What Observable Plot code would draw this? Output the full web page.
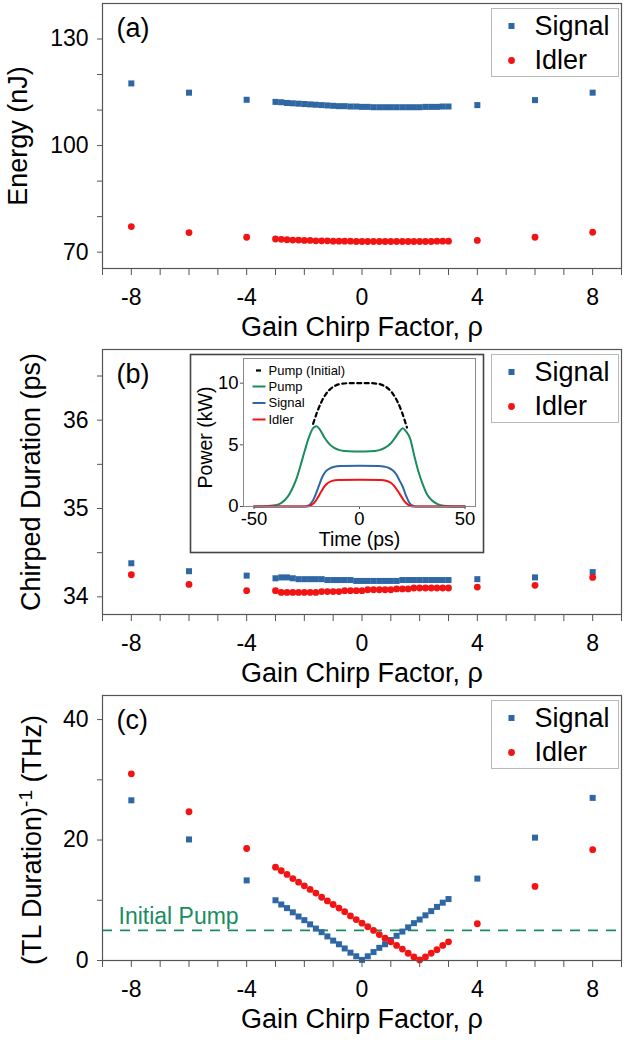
<!DOCTYPE html>
<html>
<head>
<meta charset="utf-8">
<script src="https://cdn.jsdelivr.net/npm/d3@7"></script>
<script src="https://cdn.jsdelivr.net/npm/@observablehq/plot@0.6"></script>
<style>
  body { margin: 0; background: white; }
  #chart { position: relative; width: 624px; }
  #chart svg { display: block; }
  #inset { position: absolute; left: 189px; top: 353px; }
</style>
</head>
<body>
<div id="chart">
  <div id="panel_a"></div>
  <div id="panel_b"></div>
  <div id="panel_c"></div>
  <div id="inset"></div>
</div>
<script>
// Gain chirp factor: a few wide steps plus a dense scan between -3 and 3
const rhoSparse = [-8, -6, -4, 4, 6, 8]
const rhoDense = [-3, -2.8, -2.6, -2.4, -2.2, -2, -1.8, -1.6, -1.4, -1.2, -1, -0.8, -0.6, -0.4, -0.2,
  0, 0.2, 0.4, 0.6, 0.8, 1, 1.2, 1.4, 1.6, 1.8, 2, 2.2, 2.4, 2.6, 2.8, 3]
const rhoTicks = [-9, -8, -7, -6, -5, -4, -3, -2, -1, 0, 1, 2, 3, 4, 5, 6, 7, 8, 9]
const rhoTickLabels = [-8, -4, 0, 4, 8]

// (a) energy, nJ
const energySignalSparse = [117.5, 114.9, 112.9, 111.4, 112.8, 114.9]
const energySignalDense = [112.3, 112.2, 112.0, 111.9, 111.8, 111.7, 111.6, 111.5, 111.4, 111.3, 111.2, 111.1, 111.1, 111.0, 111.0,
  110.9, 110.9, 110.8, 110.8, 110.8, 110.8, 110.8, 110.8, 110.8, 110.8, 110.8, 110.9, 110.9, 110.9, 111.0, 111.0]
const energyIdlerSparse = [77.2, 75.5, 74.2, 73.3, 74.2, 75.6]
const energyIdlerDense = [73.7, 73.6, 73.5, 73.4, 73.4, 73.3, 73.3, 73.2, 73.2, 73.2, 73.1, 73.1, 73.1, 73.1, 73.0,
  73.0, 73.0, 73.0, 73.0, 73.0, 73.0, 73.0, 73.0, 73.0, 73.0, 73.0, 73.0, 73.0, 73.1, 73.1, 73.1]
const energyTicks = [70, 80, 90, 100, 110, 120, 130]
const energyTickLabels = [70, 100, 130]

// (b) chirped duration, ps
const durationSignalSparse = [34.38, 34.29, 34.24, 34.20, 34.22, 34.28]
const durationSignalDense = [34.21, 34.22, 34.22, 34.21, 34.20, 34.20, 34.20, 34.20, 34.20, 34.19, 34.19, 34.19, 34.19, 34.19, 34.18,
  34.18, 34.18, 34.18, 34.18, 34.18, 34.18, 34.18, 34.19, 34.19, 34.19, 34.19, 34.19, 34.19, 34.19, 34.19, 34.19]
const durationIdlerSparse = [34.25, 34.14, 34.07, 34.11, 34.13, 34.22]
const durationIdlerDense = [34.07, 34.05, 34.05, 34.05, 34.05, 34.05, 34.05, 34.05, 34.06, 34.06, 34.06, 34.06, 34.07, 34.07, 34.07,
  34.07, 34.08, 34.08, 34.08, 34.08, 34.08, 34.09, 34.09, 34.09, 34.10, 34.10, 34.10, 34.10, 34.10, 34.10, 34.10]
const durationTicks = [34, 34.5, 35, 35.5, 36, 36.5]
const durationTickLabels = [34, 35, 36]

// (c) inverse transform-limited duration, THz
const tlSignalSparse = [26.6, 20.1, 13.3, 13.6, 20.4, 27.0]
const tlSignalDense = [10.0, 9.3, 8.7, 8.0, 7.3, 6.7, 6.0, 5.3, 4.7, 4.0, 3.3, 2.7, 2.0, 1.3, 0.7,
  0.1, 0.7, 1.4, 2.1, 2.7, 3.4, 4.1, 4.8, 5.5, 6.2, 6.8, 7.5, 8.2, 8.9, 9.6, 10.2]
const tlIdlerSparse = [31.0, 24.7, 18.6, 6.1, 12.3, 18.4]
const tlIdlerDense = [15.5, 14.9, 14.3, 13.6, 13.0, 12.4, 11.8, 11.2, 10.5, 9.9, 9.3, 8.7, 8.1, 7.4, 6.8,
  6.2, 5.6, 5.0, 4.3, 3.7, 3.1, 2.5, 1.9, 1.2, 0.6, 0.1, 0.6, 1.2, 1.8, 2.5, 3.1]
const initialPumpTHz = 5.0
const tlTicks = [0, 10, 20, 30, 40]
const tlTickLabels = [0, 20, 40]

// inset: power profiles (kW) vs time (ps)
const pumpInitialT = [-22, -20, -18, -16, -14, -12, -10, -5, 0, 5, 10, 12, 14, 16, 18, 20, 22.5]
const pumpInitialP = [6.7, 7.7, 8.5, 9.1, 9.5, 9.75, 9.9, 10, 10, 10, 9.9, 9.75, 9.5, 9.1, 8.5, 7.7, 6.4]
const pumpT = [-50, -45, -40, -37, -34, -32, -30, -28, -26, -24, -22, -20.5, -19, -17, -15, -12, -9, -5, 0,
  5, 9, 12, 15, 17, 19, 20.5, 22, 24, 26, 28, 30, 32, 34, 37, 40, 45, 50]
const pumpP = [0, 0.02, 0.1, 0.3, 0.8, 1.4, 2.2, 3.3, 4.5, 5.6, 6.35, 6.5, 6.3, 5.7, 5.2, 4.75, 4.55, 4.47, 4.45,
  4.47, 4.55, 4.75, 5.15, 5.6, 6.1, 6.35, 6.1, 5.5, 4.1, 2.8, 1.8, 1.0, 0.55, 0.2, 0.06, 0.01, 0]
const signalT = [-50, -26, -24, -22, -20.5, -19, -17.5, -16, -14, -12, -9, 0, 9, 12, 14, 16, 17.5, 19, 20.5, 22, 23.5, 25, 27, 50]
const signalP = [0, 0, 0.1, 0.5, 1.1, 1.8, 2.45, 2.85, 3.1, 3.22, 3.28, 3.3, 3.28, 3.22, 3.12, 2.9, 2.6, 2.1, 1.6, 0.9, 0.35, 0.08, 0, 0]
const idlerT = [-50, -25, -23, -21, -19.5, -18, -16.5, -15, -13, -10, 0, 10, 13, 15, 16.5, 18, 19.5, 21, 23, 25, 50]
const idlerP = [0, 0, 0.1, 0.4, 0.8, 1.25, 1.65, 1.9, 2.08, 2.15, 2.17, 2.15, 2.07, 1.9, 1.65, 1.3, 0.9, 0.5, 0.15, 0, 0]
const timeTicks = [-50, 0, 50]
const powerTicks = [0, 5, 10]
const insetLegend = ['Pump (Initial)', 'Pump', 'Signal', 'Idler']

const FONT = '"Liberation Sans", Arial, Helvetica, sans-serif'
const BLUE = '#2e67a4'
const RED = '#f21414'
const GREEN = '#1a8c5e'
const FRAME = '#555'

const rows = (xs, vs) => xs.map((x, i) => ({rho: x, v: vs[i]}))
const curve = (ts, ps) => ts.map((t, i) => ({t, p: ps[i]}))

// short horizontal stroke used as a legend glyph
const dash = half => ({draw(ctx) { ctx.moveTo(-half, 0); ctx.lineTo(half, 0) }})

function panel({height, yDomain, yTicks, yTickLabels, yLabel, labelX, labelDy = 0, tag, signal, idler, under = [], labelClass}) {
  const bottom = height - 3 - 265
  return Plot.plot({
    width: 624,
    height,
    marginLeft: 102,
    marginRight: 3,
    marginTop: 3,
    marginBottom: bottom,
    style: {fontFamily: FONT, fontSize: '23px', color: 'black', background: 'white', overflow: 'visible'},
    x: {domain: [-9, 9]},
    y: {domain: yDomain},
    marks: [
      Plot.axisX({ticks: rhoTicks, tickSize: 7, tickPadding: 13, label: null, stroke: FRAME,
        tickFormat: d => rhoTickLabels.includes(d) ? String(d) : ''}),
      Plot.axisY({ticks: yTicks, tickSize: 5, tickPadding: 9, label: null, stroke: FRAME,
        tickFormat: d => yTickLabels.includes(d) ? String(d) : ''}),
      ...under,
      Plot.dot(signal, {x: 'rho', y: 'v', symbol: 'square', r: 3.4, fill: BLUE}),
      Plot.dot(idler, {x: 'rho', y: 'v', symbol: 'circle', r: 3.4, fill: RED}),
      Plot.frame({stroke: FRAME, strokeWidth: 1.2}),

      Plot.text([tag], {frameAnchor: 'top-left', dx: 14, dy: 33, textAnchor: 'start', lineAnchor: 'bottom', fontSize: 27, text: d => d}),
      Plot.text(['Gain Chirp Factor, ρ'], {frameAnchor: 'bottom', dy: 67, lineAnchor: 'bottom', fontSize: 27, text: d => d}),
      Plot.text([yLabel], {frameAnchor: 'left', rotate: -90, dx: -(102 - labelX), dy: labelDy, textAnchor: 'middle',
        lineAnchor: 'middle', fontSize: 27, text: d => d, className: labelClass}),

      // legend
      Plot.frame({stroke: '#b8b8b8', fill: 'white', insetLeft: 389, insetRight: 3, insetTop: 5, insetBottom: 192}),
      Plot.dot([0], {frameAnchor: 'top-right', dx: -110, dy: 22.5, symbol: 'square', r: 3.4, fill: BLUE}),
      Plot.dot([0], {frameAnchor: 'top-right', dx: -110, dy: 57, symbol: 'circle', r: 3.4, fill: RED}),
      Plot.text(['Signal'], {frameAnchor: 'top-right', dx: -87, dy: 22.5, textAnchor: 'start', lineAnchor: 'middle', fontSize: 27, text: d => d}),
      Plot.text(['Idler'], {frameAnchor: 'top-right', dx: -87, dy: 57, textAnchor: 'start', lineAnchor: 'middle', fontSize: 27, text: d => d})
    ]
  })
}

const chartA = panel({
  height: 346, yDomain: [65.4, 140], yTicks: energyTicks, yTickLabels: energyTickLabels,
  yLabel: 'Energy (nJ)', labelX: 18, tag: '(a)',
  signal: [...rows(rhoSparse, energySignalSparse), ...rows(rhoDense, energySignalDense)],
  idler: [...rows(rhoSparse, energyIdlerSparse), ...rows(rhoDense, energyIdlerDense)]
})

const chartB = panel({
  height: 346, yDomain: [33.8, 36.8], yTicks: durationTicks, yTickLabels: durationTickLabels,
  yLabel: 'Chirped Duration (ps)', labelX: 31, tag: '(b)',
  signal: [...rows(rhoSparse, durationSignalSparse), ...rows(rhoDense, durationSignalDense)],
  idler: [...rows(rhoSparse, durationIdlerSparse), ...rows(rhoDense, durationIdlerDense)]
})

const chartC = panel({
  height: 348, yDomain: [0, 44], yTicks: tlTicks, yTickLabels: tlTickLabels,
  yLabel: '(TL Duration)', labelX: 32, labelDy: 12, tag: '(c)', labelClass: 'tl-label',
  signal: [...rows(rhoSparse, tlSignalSparse), ...rows(rhoDense, tlSignalDense)],
  idler: [...rows(rhoSparse, tlIdlerSparse), ...rows(rhoDense, tlIdlerDense)],
  under: [
    Plot.ruleY([initialPumpTHz], {stroke: GREEN, strokeWidth: 1.6, strokeDasharray: '10,8'}),
    Plot.text(['Initial Pump'], {y: () => initialPumpTHz, frameAnchor: 'left', dx: 16, dy: -6, textAnchor: 'start',
      lineAnchor: 'bottom', fill: GREEN, fontSize: 23, text: d => d})
  ]
})

// superscript -1 on the (c) axis title
const tl = d3.select(chartC).select('.tl-label text')
tl.append('tspan').attr('dy', -9).attr('font-size', 19).text('-1')
tl.append('tspan').attr('dy', 9).text(' (THz)')

const inset = Plot.plot({
  width: 296,
  height: 200,
  marginLeft: 54,
  marginRight: 10,
  marginTop: 5,
  marginBottom: 47,
  style: {fontFamily: FONT, fontSize: '18.5px', color: 'black', background: 'white', overflow: 'visible'},
  x: {domain: [-55, 55]},
  y: {domain: [0, 12]},
  marks: [
    Plot.frame({stroke: '#444', strokeWidth: 1.6, insetLeft: -53, insetTop: -4, insetRight: -8, insetBottom: -46}),
    Plot.axisX({ticks: timeTicks, tickSize: 3, tickPadding: 2, label: null, stroke: FRAME, tickFormat: d => String(d)}),
    Plot.axisY({ticks: powerTicks, tickSize: 3, tickPadding: 2, label: null, stroke: FRAME, tickFormat: d => String(d)}),
    Plot.line(curve(pumpInitialT, pumpInitialP), {x: 't', y: 'p', stroke: 'black', strokeWidth: 2.2, strokeDasharray: '4,3.5', curve: 'monotone-x'}),
    Plot.line(curve(pumpT, pumpP), {x: 't', y: 'p', stroke: GREEN, strokeWidth: 2, curve: 'monotone-x'}),
    Plot.line(curve(signalT, signalP), {x: 't', y: 'p', stroke: BLUE, strokeWidth: 2, curve: 'monotone-x'}),
    Plot.line(curve(idlerT, idlerP), {x: 't', y: 'p', stroke: RED, strokeWidth: 2, curve: 'monotone-x'}),
    Plot.frame({stroke: '#888'}),
    Plot.text(['Time (ps)'], {frameAnchor: 'bottom', dy: 39, lineAnchor: 'bottom', fontSize: 19.5, text: d => d}),
    Plot.text(['Power (kW)'], {frameAnchor: 'left', rotate: -90, dx: -38, dy: 5, textAnchor: 'middle', lineAnchor: 'middle', fontSize: 19.5, text: d => d}),

    // inset legend
    Plot.dot([0], {frameAnchor: 'top-left', dx: 15, dy: 12, symbol: dash(2.5), fill: 'none', stroke: 'black', strokeWidth: 2.2}),
    Plot.dot([0], {frameAnchor: 'top-left', dx: 15.5, dy: 28, symbol: dash(6.5), fill: 'none', stroke: GREEN, strokeWidth: 2}),
    Plot.dot([0], {frameAnchor: 'top-left', dx: 15.5, dy: 44.5, symbol: dash(6.5), fill: 'none', stroke: BLUE, strokeWidth: 2}),
    Plot.dot([0], {frameAnchor: 'top-left', dx: 15.5, dy: 61, symbol: dash(6.5), fill: 'none', stroke: RED, strokeWidth: 2}),
    ...insetLegend.map((label, i) => Plot.text([label], {frameAnchor: 'top-left', dx: 25, dy: [12, 28, 44.5, 61][i],
      textAnchor: 'start', lineAnchor: 'middle', fontSize: 13, text: d => d}))
  ]
})

d3.select('#panel_a').append(() => chartA)
d3.select('#panel_b').append(() => chartB)
d3.select('#panel_c').append(() => chartC)
d3.select('#inset').append(() => inset)
</script>
</body>
</html>
